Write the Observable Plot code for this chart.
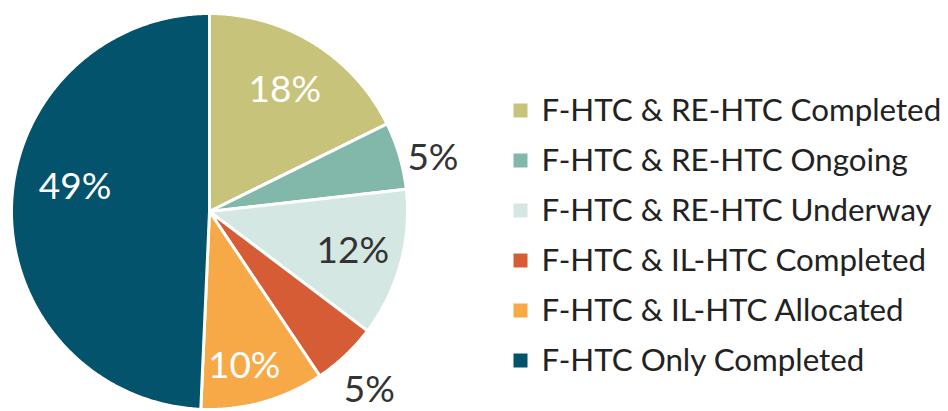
<!DOCTYPE html>
<html>
<head>
<meta charset="utf-8">
<script src="https://cdn.jsdelivr.net/npm/d3@7"></script>
<script src="https://cdn.jsdelivr.net/npm/@observablehq/plot@0.6"></script>
<style>
  html, body { margin: 0; padding: 0; background: #fff; }
  #chart svg { display: block; }
</style>
</head>
<body>
<div id="chart"></div>
<script>
// ---- data ----
const categories = [
  "F-HTC & RE-HTC Completed",
  "F-HTC & RE-HTC Ongoing",
  "F-HTC & RE-HTC Underway",
  "F-HTC & IL-HTC Completed",
  "F-HTC & IL-HTC Allocated",
  "F-HTC Only Completed"
];
const shares = [17.7, 5.5, 12.1, 5.3, 10.1, 49.3];
const labels = ["18%", "5%", "12%", "5%", "10%", "49%"];

// ---- style / layout ----
const colors = ["#C8C37B", "#82B8AA", "#D5E7E3", "#D65C36", "#F7A947", "#02536B"];
const labelColors = ["#ffffff", "#333333", "#333333", "#333333", "#ffffff", "#ffffff"];
const labelRadius = [0.72, 1.16, 0.75, 1.21, 0.8, 0.69];   // fraction of pie radius
const labelTurn = [0, 3, 0, 1.5, 3, 9];                     // degrees past mid-angle
const W = 948, H = 411;
const CX = 209, CY = 211, R = 198;          // pie placement in pixels
const FONT = "Lato, 'Open Sans', sans-serif";

// pixel -> unit-space helpers (layout only)
const px2x = (px) => (px - CX) / R;
const px2y = (py) => (CY - py) / R;

// ---- build slices ----
const pieGen = d3.pie().sort(null).value(d => d.value);
const arcs = pieGen(categories.map((name, i) => ({name, value: shares[i], label: labels[i], i})));

const slicePts = [];
arcs.forEach(a => {
  slicePts.push({name: a.data.name, x: 0, y: 0});
  const steps = Math.max(2, Math.ceil((a.endAngle - a.startAngle) / (Math.PI / 360)));
  for (let k = 0; k <= steps; k++) {
    const t = a.startAngle + (a.endAngle - a.startAngle) * k / steps;
    slicePts.push({name: a.data.name, x: Math.sin(t), y: Math.cos(t)});
  }
  slicePts.push({name: a.data.name, x: 0, y: 0});
});

const labelPts = arcs.map(a => {
  const i = a.data.i;
  const mid = (a.startAngle + a.endAngle) / 2 + labelTurn[i] * Math.PI / 180;
  const rr = labelRadius[i];
  return {label: a.data.label, x: rr * Math.sin(mid), y: rr * Math.cos(mid), fill: labelColors[i]};
});

// legend rows
const legendRows = categories.map((name, i) => ({name, row: i}));
const legendY = (d) => px2y(110 + 50 * d.row);

const chart = Plot.plot({
  width: W,
  height: H,
  margin: 0,
  style: {fontFamily: FONT, background: "#fff"},
  x: {domain: [px2x(0), px2x(W)], range: [0, W], axis: null},
  y: {domain: [px2y(H), px2y(0)], range: [H, 0], axis: null},
  color: {domain: categories, range: colors},
  marks: [
    Plot.line(slicePts, {x: "x", y: "y", z: "name", fill: "name", stroke: "white", strokeWidth: 3, strokeLinejoin: "round", curve: "linear"}),
    Plot.text(labelPts, {x: "x", y: "y", text: "label", fill: d => d.fill, fontSize: 37, fontFamily: FONT, textAnchor: "middle", lineAnchor: "middle"}),
    Plot.dot(legendRows, {x: px2x(520), y: legendY, fill: "name", symbol: "square", r: 7.9, stroke: null}),
    Plot.text(legendRows, {x: px2x(541), y: legendY, text: "name", textAnchor: "start", lineAnchor: "middle", fontSize: 31.3, fill: "#222", fontFamily: FONT})
  ]
});
document.getElementById("chart").appendChild(chart);
</script>
</body>
</html>
